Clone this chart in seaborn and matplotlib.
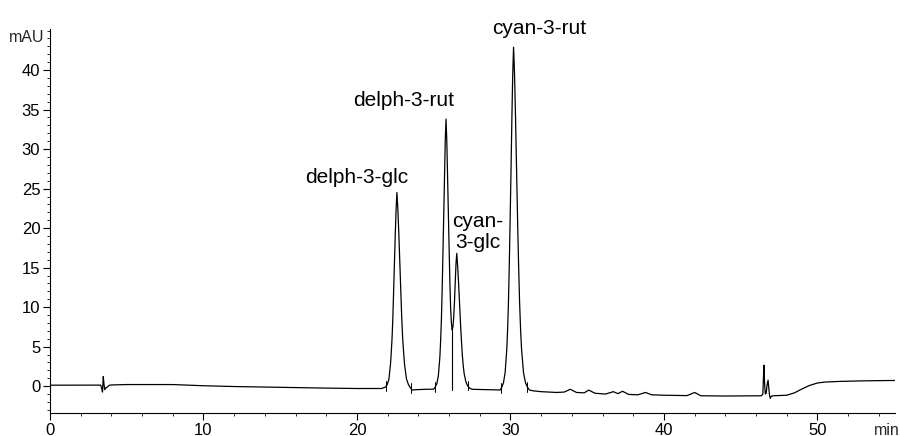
import numpy as np
import pandas as pd
import matplotlib
matplotlib.use("Agg")
import matplotlib.pyplot as plt
import seaborn as sns
from matplotlib.ticker import MultipleLocator

# ---------------- data ----------------
# leading baseline incl. injection disturbance
t_lead = [0.0, 1.0, 2.0, 3.0, 3.3, 3.36, 3.42, 3.47, 3.52, 3.57, 3.65, 3.75, 3.85,
          4.0, 5.0, 8.0, 10.0, 12.0, 15.0, 18.0, 20.0, 21.0, 21.6]
v_lead = [0.12, 0.12, 0.13, 0.13, 0.13, -0.2, -0.75, 1.2, 0.2, -0.45, -0.2, -0.1, 0.1,
          0.15, 0.2, 0.2, 0.05, -0.05, -0.15, -0.25, -0.3, -0.3, -0.3]

# delph-3-glc peak
t_delph_glc = [21.87, 21.97, 22.08, 22.18, 22.23, 22.285, 22.34, 22.39, 22.44, 22.495,
               22.55, 22.6, 22.66, 22.725, 22.79, 22.85, 22.91, 22.975, 23.04, 23.1,
               23.225, 23.35, 23.475, 23.6, 23.8, 24.5]
v_delph_glc = [-0.1, 0.2, 0.9, 2.7, 4.2, 6.1, 8.9, 12.1, 15.6, 19.3,
               22.5, 24.5, 22.5, 19.3, 15.6, 12.1, 8.9, 6.1, 4.2, 2.7,
               0.9, 0.2, -0.2, -0.5, -0.45, -0.4]

# delph-3-rut + cyan-3-glc (overlapping pair)
t_rut_glc = [25.0, 25.1, 25.2, 25.3, 25.4, 25.45, 25.5, 25.55, 25.6, 25.65, 25.7, 25.75,
             25.8, 25.85, 25.9, 25.95, 26.0, 26.05, 26.1, 26.15, 26.2, 26.25, 26.3, 26.35,
             26.4, 26.45, 26.5, 26.56, 26.62, 26.68, 26.74, 26.8, 26.86, 26.92, 26.98,
             27.1, 27.22, 27.34, 27.5, 28.0, 28.8, 29.2]
v_rut_glc = [-0.38, -0.1, 0.3, 1.3, 3.7, 5.8, 8.5, 12.3, 16.7, 21.5, 26.6, 31.1,
             33.8, 31.1, 26.6, 21.5, 17.2, 13.15, 9.9, 8.0, 7.1, 7.5, 8.7, 10.65,
             13.1, 15.5, 16.8, 15.1, 13.0, 10.4, 8.1, 5.9, 4.0, 2.6, 1.6,
             0.5, 0.0, -0.25, -0.4, -0.42, -0.45, -0.48]

# cyan-3-rut peak
t_cyan_rut = [29.32, 29.43, 29.54, 29.65, 29.76, 29.815, 29.87, 29.925, 29.98, 30.035,
              30.09, 30.145, 30.2, 30.265, 30.33, 30.395, 30.46, 30.525, 30.59, 30.655,
              30.72, 30.85, 30.98, 31.11, 31.24]
v_cyan_rut = [-0.5, -0.15, 0.4, 1.7, 4.7, 7.3, 10.8, 15.6, 21.2, 27.3,
              33.8, 39.4, 42.9, 39.4, 33.8, 27.3, 21.2, 15.6, 10.8, 7.3,
              4.7, 1.7, 0.4, -0.15, -0.5]

# trailing baseline, small bumps, late spikes and gradient step
t_tail = [31.5, 32.0, 33.0, 33.5, 33.9, 34.3, 34.8, 35.1, 35.5, 36.2, 36.7, 37.0, 37.3,
          37.7, 38.3, 38.8, 39.2, 40.0, 41.5, 42.0, 42.4, 44.0, 46.35, 46.44, 46.48,
          46.51, 46.55, 46.6, 46.66, 46.72, 46.78, 46.83, 46.88, 46.93, 46.98, 47.1,
          48.0, 48.5, 49.0, 49.5, 50.0, 50.5, 51.5, 53.0, 55.05]
v_tail = [-0.6, -0.7, -0.8, -0.75, -0.4, -0.8, -0.85, -0.5, -0.9, -1.0, -0.7, -0.95, -0.65,
          -1.05, -1.1, -0.8, -1.1, -1.15, -1.2, -0.8, -1.22, -1.25, -1.22, -1.0, 1.0,
          2.65, 0.5, -1.0, -0.9, 0.2, 0.76, -0.3, -1.2, -1.55, -1.3, -1.22,
          -1.15, -0.85, -0.35, 0.1, 0.4, 0.52, 0.6, 0.67, 0.72]

# integration markers
integration_marks = [21.9, 23.5, 25.1, 27.2, 29.4, 31.1]
drop_line_time = [26.2]

peak_labels = ["delph-3-glc", "delph-3-rut", "cyan-\n3-glc", "cyan-3-rut"]
label_time = [20.0, 23.05, 27.85, 31.9]
label_mau = [26.4, 36.1, 19.5, 45.3]

# ---------------- build frame ----------------
time = np.concatenate([t_lead, t_delph_glc, t_rut_glc, t_cyan_rut, t_tail])
signal = np.concatenate([v_lead, v_delph_glc, v_rut_glc, v_cyan_rut, v_tail])
df = pd.DataFrame({"time": time, "mAU": signal})

sns.set_theme(style="ticks")
plt.rcParams['font.family'] = ['Liberation Sans', 'DejaVu Sans']

fig = plt.figure(figsize=(9, 4.36), dpi=100)
ax = fig.add_axes([50 / 900, 23 / 436, 845 / 900, 384 / 436])

sns.lineplot(data=df, x="time", y="mAU", ax=ax, color="black", linewidth=0.9,
             estimator=None, sort=False)

# integration markers
for tm in integration_marks:
    yv = np.interp(tm, time, signal)
    ax.plot([tm, tm], [yv - 0.6, yv + 0.6], color="black", linewidth=0.7)
for tm in drop_line_time:
    yv = np.interp(tm, time, signal)
    ax.plot([tm, tm], [-0.5, yv], color="black", linewidth=0.8)

for lab, tx, ty in zip(peak_labels, label_time, label_mau):
    ax.text(tx, ty, lab, ha="center", va="center", fontsize=15, color="black",
            linespacing=1.15)

ax.set_xlim(0, 55.05)
ax.set_ylim(-3.4, 45.2)
ax.set_xlabel("")
ax.set_ylabel("")
ax.xaxis.set_major_locator(MultipleLocator(10))
ax.xaxis.set_minor_locator(MultipleLocator(2))
ax.yaxis.set_major_locator(MultipleLocator(5))
ax.yaxis.set_minor_locator(MultipleLocator(1))
ax.set_yticks([0, 5, 10, 15, 20, 25, 30, 35, 40])
ax.tick_params(axis="both", which="major", direction="out", length=5, width=0.8,
               labelsize=12, pad=2, colors="black")
ax.tick_params(axis="both", which="minor", direction="out", length=2.5, width=0.7)
sns.despine(ax=ax)
for s in ["left", "bottom"]:
    ax.spines[s].set_linewidth(0.8)
    ax.spines[s].set_color("black")

fig.text(44 / 900, 1 - 37 / 436, "mAU", ha="right", va="center", fontsize=11.5)
fig.text(887 / 900, 1 - 430 / 436, "min", ha="center", va="center", fontsize=11.5)

fig.savefig("out.png", dpi=100)
